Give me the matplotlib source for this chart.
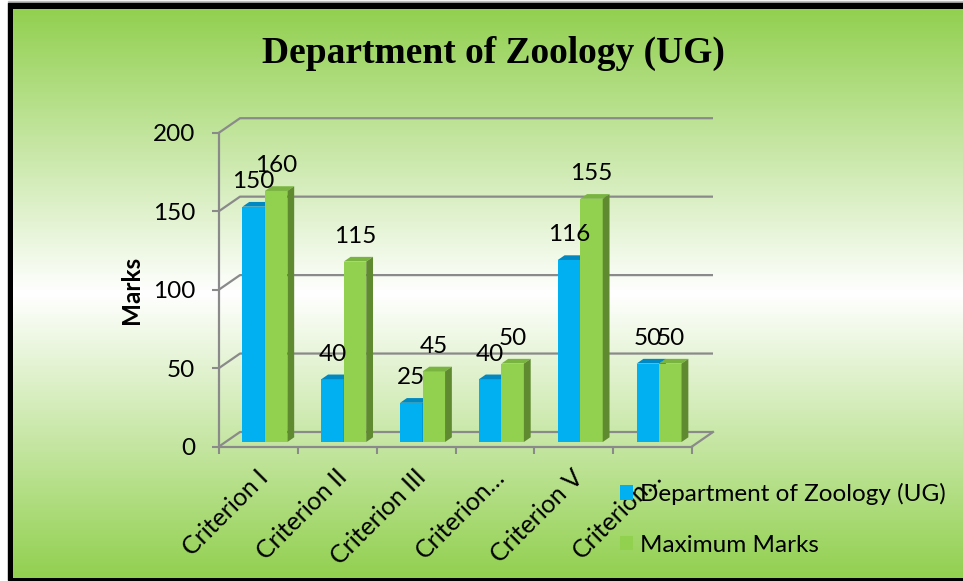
import numpy as np
import matplotlib
matplotlib.use('Agg')
import matplotlib.pyplot as plt
from matplotlib.patches import Rectangle, Polygon, Patch
from matplotlib.colors import to_rgb

# data
categories = ['Criterion I', 'Criterion II', 'Criterion III', 'Criterion…', 'Criterion V', 'Criterion…']
dept_marks = [150, 40, 25, 40, 116, 50]
max_marks = [160, 115, 45, 50, 155, 50]
series_names = ['Department of Zoology (UG)', 'Maximum Marks']
yticks = [0, 50, 100, 150, 200]

W, H, DPI = 963, 581, 100
FS = 17.5

BLUE, BLUE_TOP, BLUE_SIDE = '#00B0F0', '#0088C2', '#0078AA'
GREEN, GREEN_TOP, GREEN_SIDE = '#92D050', '#79B340', '#5F8A2F'
GRID = '#8A8A8A'

plt.rcParams['font.family'] = ['Lato', 'DejaVu Sans']


def box(x0, y0, x1, y1):
    # pixel box (origin top-left) -> figure fraction rect
    return [x0 / W, 1 - y1 / H, (x1 - x0) / W, (y1 - y0) / H]


fig = plt.figure(figsize=(W / DPI, H / DPI), dpi=DPI, facecolor='white')

# frame: thin grey line, black border, green-white-green gradient
fig.patches.append(Rectangle((8 / W, 1 - 3 / H), 1, 1.5 / H, transform=fig.transFigure,
                             color='#BDBDBD', zorder=-10))
fig.patches.append(Rectangle((8 / W, 1 - 580 / H), 1, 577 / H, transform=fig.transFigure,
                             color='black', zorder=-10))
bg = fig.add_axes(box(13, 9, W, 578))
bg.set_zorder(-5)
t = np.linspace(0, 1, 400)
w = 1 - np.abs(2 * t - 1)
green = np.array(to_rgb('#92D050'))
grad = green[None, :] * (1 - w[:, None]) + w[:, None]
bg.imshow(grad[:, None, :], aspect='auto', extent=(0, 1, 0, 1), interpolation='bilinear')
bg.axis('off')

# front plane of the 3D chart
ax = fig.add_axes(box(219, 132.7, 692, 446.5))
ax.patch.set_alpha(0)
n = len(categories)
ax.set_xlim(0, n)
ax.set_ylim(0, 200)

sx = 473 / n        # pixels per category
sy = 313.8 / 200    # pixels per mark
WX, WY = 21 / sx, 14.5 / sy     # back wall offset
FX, FY = 6.5 / sx, 4.5 / sy     # bar front face offset
DX, DY = 6.8 / sx, 4.7 / sy     # bar depth

# walls / gridlines
for v in yticks:
    ax.plot([0, WX, n + WX], [v, v + WY, v + WY], color=GRID, lw=1.6,
            clip_on=False, zorder=1, solid_capstyle='butt')
ax.plot([n, n + WX], [0, WY], color=GRID, lw=1.6, clip_on=False, zorder=1)

for s in ['top', 'right']:
    ax.spines[s].set_visible(False)
for s in ['left', 'bottom']:
    ax.spines[s].set_color(GRID)
    ax.spines[s].set_linewidth(1.6)

ax.set_yticks(yticks)
ax.set_xticks(range(n + 1))
ax.set_xticklabels([])
ax.tick_params(axis='both', length=5, width=1.5, color=GRID, labelsize=FS, pad=12)

# bars
bw = 0.285
x = np.arange(n)
series = [(dept_marks, BLUE, BLUE_TOP, BLUE_SIDE), (max_marks, GREEN, GREEN_TOP, GREEN_SIDE)]
for i in range(n):
    for j, (vals, cf, ct, cs) in enumerate(series):
        x0 = x[i] + 0.5 - bw + j * bw + FX
        v = vals[i]
        ax.bar(x0, v, width=bw, bottom=FY, align='edge', color=cf, zorder=3 + j)
        top = v + FY
        ax.add_patch(Polygon([(x0, top), (x0 + bw, top), (x0 + bw + DX, top + DY), (x0 + DX, top + DY)],
                             closed=True, facecolor=ct, edgecolor='none', zorder=3 + j, clip_on=False))
        ax.add_patch(Polygon([(x0 + bw, FY), (x0 + bw + DX, FY + DY), (x0 + bw + DX, top + DY), (x0 + bw, top)],
                             closed=True, facecolor=cs, edgecolor='none', zorder=3 + j, clip_on=False))
        ax.annotate(str(v), xy=(x0 + bw / 2, top), xytext=(0, 25), textcoords='offset pixels',
                    ha='center', va='center', fontsize=FS, zorder=6, annotation_clip=False)

# category labels
for i, cat in enumerate(categories):
    ax.annotate(cat, xy=(i + 0.5, 0), xytext=(6, -27), textcoords='offset pixels',
                ha='right', va='center', rotation=45, rotation_mode='anchor',
                fontsize=18, annotation_clip=False)

ax.set_ylabel('Marks', fontsize=FS, fontweight='bold')
ax.yaxis.set_label_coords(-0.16, 0.5)

fig.text(493 / W, 1 - 53 / H, 'Department of Zoology (UG)', ha='center', va='center',
         fontsize=27, fontweight='bold', family='Liberation Serif')

handles = [Patch(facecolor=BLUE), Patch(facecolor=GREEN)]
fig.legend(handles, series_names, loc='upper left', bbox_to_anchor=(620 / W, 1 - 483 / H),
           frameon=False, fontsize=FS, handlelength=0.535, handleheight=0.535,
           handletextpad=0.3, labelspacing=1.21, borderpad=0, borderaxespad=0)

fig.savefig('out.png', dpi=DPI)
